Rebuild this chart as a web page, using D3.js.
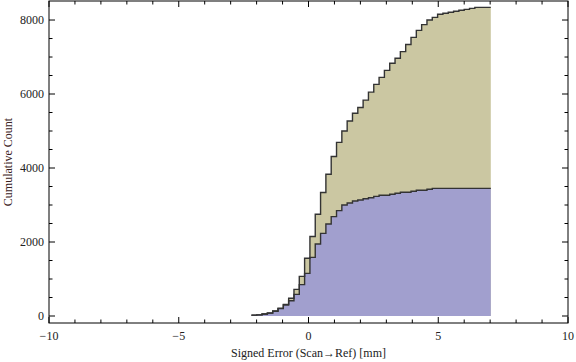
<!DOCTYPE html>
<html>
<head>
<meta charset="utf-8">
<script src="https://cdn.jsdelivr.net/npm/d3@7/dist/d3.min.js"></script>
<style>
  body { margin: 0; background: #fff; }
  text { font-family: "Liberation Serif", "DejaVu Serif", serif; }
</style>
</head>
<body>
<svg id="chart" width="576" height="362"></svg>
<script>
(function() {
    var width = 576, height = 362

    // bin edges of the cumulative histogram (46 edges -> 45 bins)
    var binEdges = [-2.2, -1.995, -1.79, -1.585, -1.38, -1.175, -0.97, -0.765, -0.56, -0.355,
        -0.15, 0.055, 0.26, 0.465, 0.67, 0.875, 1.08, 1.285, 1.49, 1.695,
        1.9, 2.105, 2.31, 2.515, 2.72, 2.925, 3.13, 3.335, 3.54, 3.745,
        3.95, 4.155, 4.36, 4.565, 4.77, 4.975, 5.18, 5.385, 5.59, 5.795,
        6.0, 6.205, 6.41, 6.615, 6.82, 7.025]

    // cumulative counts, total (khaki) and first group (blue)
    var totalCounts = [25, 30, 55, 80, 135, 210, 315, 480, 720, 1070,
        1560, 2150, 2750, 3340, 3830, 4310, 4694, 5000, 5270, 5480,
        5635, 5835, 6050, 6260, 6450, 6640, 6830, 6965, 7145, 7340,
        7530, 7720, 7875, 8000, 8072, 8154, 8181, 8208, 8235, 8262,
        8289, 8316, 8343, 8343, 8343]
    var blueCounts = [25, 30, 55, 78, 130, 200, 297, 414, 586, 847,
        1153, 1586, 1946, 2234, 2486, 2685, 2847, 3000, 3054, 3108,
        3135, 3171, 3198, 3234, 3262, 3262, 3289, 3316, 3343, 3343,
        3370, 3397, 3397, 3424, 3451, 3451, 3451, 3451, 3451, 3451,
        3451, 3451, 3451, 3451, 3451]

    var xMajor = [-10, -5, 0, 5, 10]
    var xMinor = [-9, -8, -7, -6, -4, -3, -2, -1, 1, 2, 3, 4, 6, 7, 8, 9]
    var yMajor = [0, 2000, 4000, 6000, 8000]
    var yMinor = [500, 1000, 1500, 2500, 3000, 3500, 4500, 5000, 5500, 6500, 7000, 7500]

    var left = 49, right = 568, top = 1, bottom = 323

    var x = d3.scaleLinear().domain([-10, 10]).range([left, right])
    var y = d3.scaleLinear().domain([-189, 8514]).range([bottom, top])

    var svg = d3.select("#chart")

    // step points: one per bin edge, last value repeated at the end edge
    function steps(counts) {
        var pts = counts.map((c, i) => [binEdges[i], c])
        pts.push([binEdges[binEdges.length - 1], counts[counts.length - 1]])
        return pts
    }

    var area = d3.area()
        .x(d => x(d[0]))
        .y0(y(0))
        .y1(d => y(d[1]))
        .curve(d3.curveStepAfter)
    var line = d3.line()
        .x(d => x(d[0]))
        .y(d => y(d[1]))
        .curve(d3.curveStepAfter)

    svg.append("path").attr("d", area(steps(totalCounts))).attr("fill", "#cbc7a2")
    svg.append("path").attr("d", area(steps(blueCounts))).attr("fill", "#a19fce")
    svg.append("path").attr("d", line(steps(totalCounts)))
        .attr("fill", "none").attr("stroke", "#333").attr("stroke-width", 1.4)
    svg.append("path").attr("d", line(steps(blueCounts)))
        .attr("fill", "none").attr("stroke", "#333").attr("stroke-width", 1.4)

    // frame
    svg.append("rect")
        .attr("x", left).attr("y", top)
        .attr("width", right - left).attr("height", bottom - top)
        .attr("fill", "none").attr("stroke", "#000").attr("stroke-width", 1)

    var ticks = svg.append("g").attr("stroke", "#000").attr("stroke-width", 1)
    function xTicks(vals, len) {
        vals.forEach(v => {
            ticks.append("line").attr("x1", x(v)).attr("x2", x(v)).attr("y1", bottom).attr("y2", bottom - len)
            ticks.append("line").attr("x1", x(v)).attr("x2", x(v)).attr("y1", top).attr("y2", top + len)
        })
    }
    function yTicks(vals, len) {
        vals.forEach(v => {
            ticks.append("line").attr("y1", y(v)).attr("y2", y(v)).attr("x1", left).attr("x2", left + len)
            ticks.append("line").attr("y1", y(v)).attr("y2", y(v)).attr("x1", right).attr("x2", right - len)
        })
    }
    xTicks(xMajor, 6); xTicks(xMinor, 3.5)
    yTicks(yMajor, 6); yTicks(yMinor, 3.5)

    svg.append("g").selectAll("text").data(xMajor).join("text")
        .attr("x", d => x(d)).attr("y", bottom + 17)
        .attr("text-anchor", "middle").attr("font-size", 12).attr("fill", "#222")
        .text(d => d < 0 ? "\u2212" + Math.abs(d) : d)

    svg.append("g").selectAll("text").data(yMajor).join("text")
        .attr("x", left - 5).attr("y", d => y(d) + 4)
        .attr("text-anchor", "end").attr("font-size", 12).attr("fill", "#222")
        .text(d => d)

    svg.append("text")
        .attr("x", (left + right) / 2).attr("y", 357)
        .attr("text-anchor", "middle").attr("font-size", 12).attr("fill", "#222")
        .text("Signed Error (Scan\u2192Ref) [mm]")

    svg.append("text")
        .attr("transform", "translate(12," + ((top + bottom) / 2) + ") rotate(-90)")
        .attr("text-anchor", "middle").attr("font-size", 12).attr("fill", "#3a2222")
        .text("Cumulative Count")
})();
</script>
</body>
</html>
